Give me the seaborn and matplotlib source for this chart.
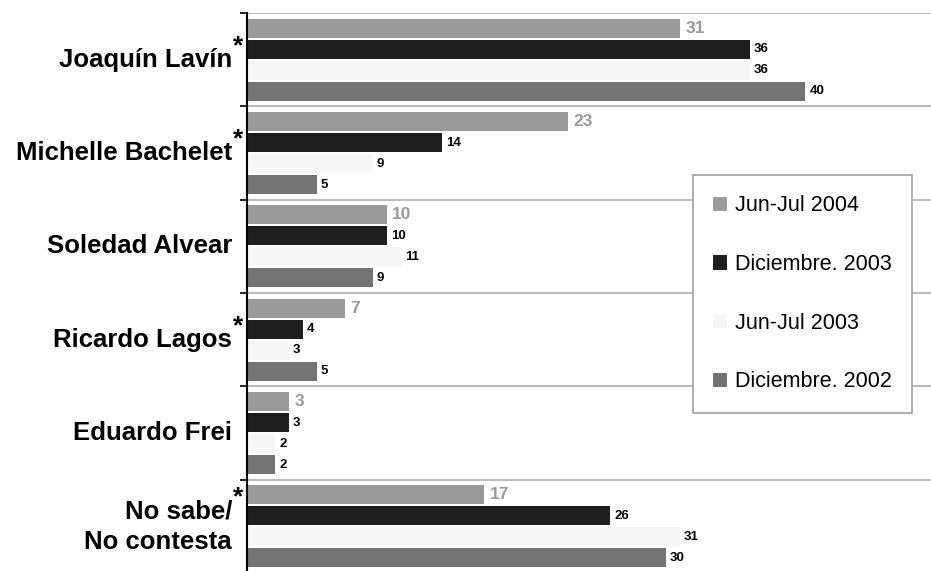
import pandas as pd
import matplotlib
matplotlib.use('Agg')
import matplotlib.pyplot as plt
import seaborn as sns

candidatos = ['Joaquín Lavín', 'Michelle Bachelet', 'Soledad Alvear',
              'Ricardo Lagos', 'Eduardo Frei', 'No sabe/\nNo contesta']
con_asterisco = [True, True, False, True, False, True]
periodos = ['Jun-Jul 2004', 'Diciembre. 2003', 'Jun-Jul 2003', 'Diciembre. 2002']
jun_jul_2004 = [31, 23, 10, 7, 3, 17]
dic_2003 = [36, 14, 10, 4, 3, 26]
jun_jul_2003 = [36, 9, 11, 3, 2, 31]
dic_2002 = [40, 5, 9, 5, 2, 30]
colores = ['#9a9a9a', '#1e1e1e', '#f6f6f6', '#737373']

series = [jun_jul_2004, dic_2003, jun_jul_2003, dic_2002]
filas = []
for periodo, valores in zip(periodos, series):
    for cand, v in zip(candidatos, valores):
        filas.append({'Candidato': cand, 'Periodo': periodo, 'Valor': v})
df = pd.DataFrame(filas)

sns.set_style('white')
plt.rcParams['font.family'] = ['Liberation Sans', 'DejaVu Sans']
plt.rcParams['text.color'] = 'black'

fig = plt.figure(figsize=(9.31, 5.71), dpi=100)
ax = fig.add_axes([247 / 931, -2 / 571, 684 / 931, 560 / 571])

sns.barplot(data=df, y='Candidato', x='Valor', hue='Periodo', order=candidatos,
            hue_order=periodos, palette=colores, width=0.9, gap=0.08,
            saturation=1, linewidth=0, ax=ax)

ax.set_xlim(0, 49)
ax.set_ylim(5.5, -0.5)

# etiquetas de valores
for i, cont in enumerate(ax.containers):
    if i == 0:
        ax.bar_label(cont, padding=4, fontsize=12.5, fontweight='bold', color='#9a9a9a')
    else:
        ax.bar_label(cont, padding=3, fontsize=9.5, fontweight='bold', color='black')

# lineas separadoras
bordes = [k - 0.5 for k in range(len(candidatos) + 1)]
ax.set_yticks(bordes)
ax.set_yticklabels([])
ax.tick_params(axis='y', length=5, width=1.2, color='black', left=True, direction='out')
for b in bordes:
    ax.axhline(b, color='#bdbdbd', lw=1.5, zorder=0)

ax.set_xticks([])
ax.set_xlabel('')
ax.set_ylabel('')
for s in ['top', 'right', 'bottom']:
    ax.spines[s].set_visible(False)
ax.spines['left'].set_color('black')
ax.spines['left'].set_linewidth(1.5)

# nombres de candidatos
for k, (cand, ast) in enumerate(zip(candidatos, con_asterisco)):
    t = ax.text(-0.022, k, cand, transform=ax.get_yaxis_transform(),
                ha='right', va='center', fontsize=18.5, fontweight='bold',
                color='black', linespacing=1.35, multialignment='right')
    if ast:
        ax.annotate('*', xy=(1, 1), xycoords=t, xytext=(0.5, 1),
                    textcoords='offset points', ha='left', va='center',
                    fontsize=19, fontweight='bold', color='black')

leg = ax.legend(loc='upper left', bbox_to_anchor=(693 / 931, 1 - 175 / 571),
                bbox_transform=fig.transFigure, fontsize=15.5, frameon=True,
                fancybox=False, edgecolor='#a0a0a0', framealpha=1,
                labelspacing=1.75, handlelength=0.65, handleheight=0.65,
                handletextpad=0.33, borderpad=0.95, borderaxespad=0, title=None)
leg.get_frame().set_linewidth(1.2)
for txt in leg.get_texts():
    txt.set_color('black')

fig.savefig('out.png', dpi=100)
